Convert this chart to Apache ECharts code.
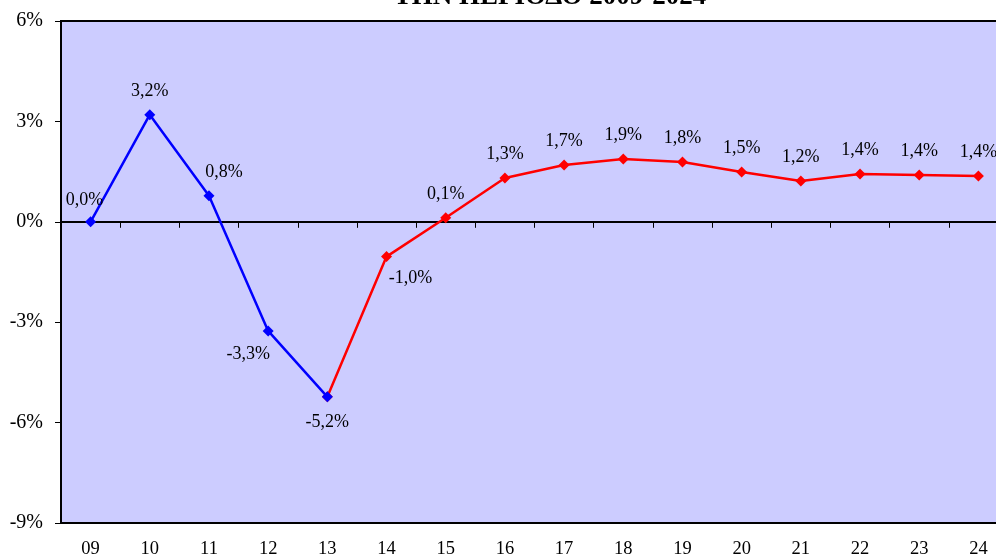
<!DOCTYPE html>
<html><head><meta charset="utf-8">
<script src="https://cdn.jsdelivr.net/npm/echarts@6/dist/echarts.min.js"></script>
<style>html,body{margin:0;padding:0;background:#fff}#c{width:996px;height:559px}</style>
</head><body><div id="c"></div>
<script>
const categories = ['09','10','11','12','13','14','15','16','17','18','19','20','21','22','23','24'];
const blueValues = [0.0, 3.2, 0.78, -3.26, -5.23, null, null, null, null, null, null, null, null, null, null, null];
const redValues = [null, null, null, null, -5.23, -1.04, 0.12, 1.31, 1.70, 1.88, 1.79, 1.49, 1.22, 1.43, 1.40, 1.37];
const yTicks = [-9, -6, -3, 0, 3, 6];
const titleText = 'ΤΗΝ ΠΕΡΙΟΔΟ 2009-2024';

const FONT = '"Liberation Serif", "Times New Roman", serif';
const fmt = v => v.toFixed(1).replace('.', ',') + '%';

// label placement per category index (style only)
const labelStyle = {
  0: {position: 'top', offset: [-6, 2]},
  2: {position: 'top', offset: [15, 0]},
  3: {position: 'bottom', offset: [-20, 0]},
  4: {position: 'bottom', offset: [0, 2]},
  5: {position: 'bottom', offset: [24, -2]},
  6: {position: 'top', offset: [0, 0]}
};

function buildData(values, skip) {
  return values.map((v, i) => {
    if (v === null) return null;
    const ls = labelStyle[i] || {position: 'top'};
    return {
      value: v,
      label: Object.assign({show: !(skip && skip.includes(i))}, ls)
    };
  });
}

const chart = echarts.init(document.getElementById('c'), null, {renderer: 'canvas'});
chart.setOption({
  animation: false,
  backgroundColor: '#fff',
  title: {
    text: titleText, left: 545, textAlign: 'center', top: -21,
    textStyle: {fontFamily: FONT, fontWeight: 'bold', fontSize: 27, color: '#000'}
  },
  grid: {
    left: 61, top: 21, width: 947, height: 502,
    outerBoundsMode: 'none', containLabel: false,
    show: true, backgroundColor: '#CCCCFF', borderColor: '#000', borderWidth: 2
  },
  xAxis: [{
    type: 'category', data: categories, position: 'bottom', boundaryGap: true,
    axisLine: {show: false, onZero: false},
    axisTick: {show: false},
    axisLabel: {fontFamily: FONT, fontSize: 18.5, color: '#000', margin: 17}
  }, {
    type: 'category', data: categories, position: 'bottom', boundaryGap: true,
    axisLine: {show: true, onZero: true, lineStyle: {color: '#000', width: 2}},
    axisTick: {show: true, inside: false, length: 6, lineStyle: {color: '#000', width: 1}},
    axisLabel: {show: false}
  }],
  yAxis: {
    type: 'value', min: -9, max: 6, interval: 3,
    splitLine: {show: false},
    axisLine: {show: false},
    axisTick: {show: true, length: 6, lineStyle: {color: '#000'}},
    axisLabel: {fontFamily: FONT, fontSize: 20, color: '#000', margin: 18,
      formatter: v => yTicks.includes(v) ? v + '%' : ''}
  },
  series: [{
    type: 'line', xAxisIndex: 0, data: buildData(blueValues),
    symbol: 'diamond', symbolSize: 11, connectNulls: false,
    lineStyle: {color: '#0000FF', width: 2.5}, itemStyle: {color: '#0000FF'},
    label: {fontFamily: FONT, fontSize: 18, color: '#000', distance: 9, formatter: p => fmt(p.value)},
    z: 3
  }, {
    type: 'line', xAxisIndex: 0, data: buildData(redValues, [4]),
    symbol: 'diamond', symbolSize: 11, connectNulls: false,
    lineStyle: {color: '#FF0000', width: 2.5}, itemStyle: {color: '#FF0000'},
    label: {fontFamily: FONT, fontSize: 18, color: '#000', distance: 9, formatter: p => fmt(p.value)},
    z: 2
  }]
});
</script>
</body></html>
